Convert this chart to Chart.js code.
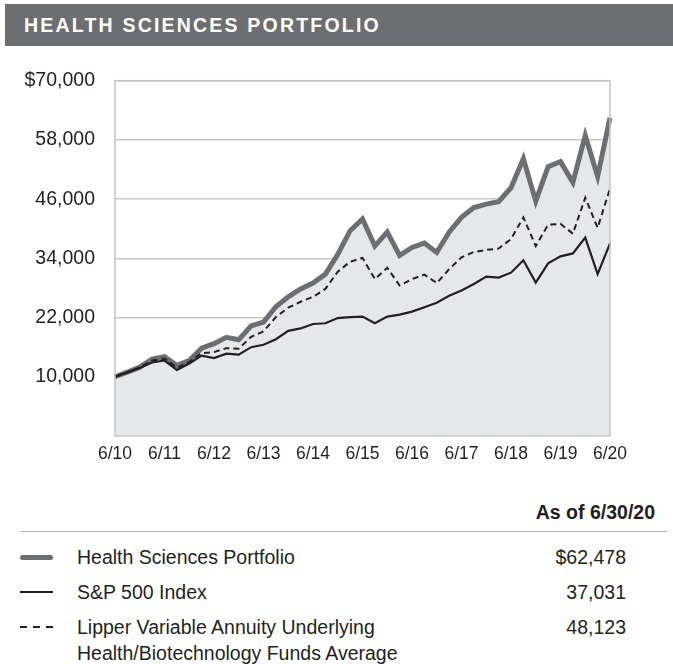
<!DOCTYPE html>
<html>
<head>
<meta charset="utf-8">
<script src="https://cdn.jsdelivr.net/npm/chart.js@4"></script>
<style>
  body { margin: 0; background: #fff; font-family: "Liberation Sans", Arial, sans-serif; color: #231f20; }
  #page { position: relative; width: 673px; height: 664px; overflow: hidden; }
  #header { position: absolute; left: 5px; top: 4px; width: 668px; height: 42px; background: #6d6e71; }
  #header span { position: absolute; left: 19px; top: 10px; color: #fff; font-weight: bold; font-size: 19.5px; letter-spacing: 2.2px; }
  #chartBox { position: absolute; left: 0; top: 49px; width: 673px; height: 431px; }
  .abs { position: absolute; white-space: nowrap; }
  .txt { font-size: 19.5px; line-height: 26px; }
  .val { font-size: 19.5px; line-height: 26px; text-align: right; }
  #rule { position: absolute; left: 20px; top: 531px; width: 647px; height: 1px; background: #b5b5b5; }
  .swatch { position: absolute; left: 20px; width: 33px; }
</style>
</head>
<body>
<div id="page">
  <div id="header"><span>HEALTH SCIENCES PORTFOLIO</span></div>
  <div id="chartBox"><canvas id="growthChart" width="673" height="431"></canvas></div>

  <div class="abs" style="left:455px; top:501px; width:200px; text-align:right; font-weight:bold; font-size:19.5px;">As of 6/30/20</div>
  <div id="rule"></div>
  <div id="legendRows"></div>
</div>

<script>
// quarter ends, 6/30/10 through 6/30/20
var quarters = ['6/10','9/10','12/10','3/11','6/11','9/11','12/11','3/12','6/12','9/12','12/12',
  '3/13','6/13','9/13','12/13','3/14','6/14','9/14','12/14','3/15','6/15','9/15','12/15',
  '3/16','6/16','9/16','12/16','3/17','6/17','9/17','12/17','3/18','6/18','9/18','12/18',
  '3/19','6/19','9/19','12/19','3/20','6/20'];
var xTickLabels = ['6/10','6/11','6/12','6/13','6/14','6/15','6/16','6/17','6/18','6/19','6/20'];
var yTickValues = [70000, 58000, 46000, 34000, 22000, 10000];
var yTickLabels = ['$70,000', '58,000', '46,000', '34,000', '22,000', '10,000'];

var seriesNames = ['Health Sciences Portfolio', 'S&P 500 Index',
  'Lipper Variable Annuity Underlying\nHealth/Biotechnology Funds Average'];
var endValues = ['$62,478', '37,031', '48,123'];

var portfolio = [10000, 10950, 11950, 13600, 14100, 12300, 13300, 15800, 16700, 18000, 17500,
  20300, 21100, 24200, 26200, 27800, 29000, 30800, 34800, 39600, 42000, 36500, 39300,
  34600, 36200, 37100, 35200, 39300, 42300, 44300, 45000, 45500, 48300, 54200, 45600,
  52600, 53600, 49400, 58900, 50600, 62478];
var sp500 = [10000, 10900, 11800, 12900, 13300, 11400, 12700, 14300, 13800, 14700, 14500,
  16000, 16500, 17600, 19300, 19800, 20700, 20850, 21900, 22100, 22200, 20850, 22200,
  22600, 23200, 24100, 25000, 26400, 27500, 28800, 30300, 30100, 31100, 33600, 29100,
  33000, 34400, 35000, 38200, 30800, 37031];
var lipper = [10000, 10900, 11900, 13300, 13700, 11800, 13000, 14800, 15000, 15800, 15700,
  18100, 19200, 22100, 24000, 25200, 26200, 27800, 31300, 33300, 34100, 29800, 32100,
  28500, 29800, 30700, 29000, 31800, 34200, 35300, 35700, 36000, 37900, 42300, 36500,
  40800, 41000, 39000, 46300, 40200, 48123];

// legend table below the chart
var rowTops = [544, 579, 614];
var swatchStyles = [
  'top:11px;height:5px;background:#6d6e71;border-radius:3px;',
  'top:12px;height:2px;background:#231f20;',
  'top:12px;height:2px;background:repeating-linear-gradient(to right,#231f20 0 7px,transparent 7px 13px);'
];
var rows = document.getElementById('legendRows');
seriesNames.forEach(function(name, i) {
  var r = document.createElement('div');
  r.className = 'abs';
  r.style.left = '0px';
  r.style.top = rowTops[i] + 'px';
  r.style.width = '673px';
  r.innerHTML =
    '<div class="swatch" style="' + swatchStyles[i] + '"></div>' +
    '<div class="abs txt" style="left:77px;top:0;">' + name.replace('&', '&amp;').replace('\n', '<br>') + '</div>' +
    '<div class="abs val" style="left:526px;top:0;width:100px;">' + endValues[i] + '</div>';
  rows.appendChild(r);
});

var plotBorder = {
  id: 'plotBorder',
  afterDatasetsDraw: function(chart) {
    var a = chart.chartArea, ctx = chart.ctx;
    ctx.save();
    ctx.strokeStyle = '#c4c4c4';
    ctx.lineWidth = 1.5;
    ctx.strokeRect(a.left, a.top, a.right - a.left, a.bottom - a.top);
    ctx.restore();
  }
};

new Chart('growthChart', {
  type: 'line',
  data: {
    labels: quarters,
    datasets: [{
      label: seriesNames[0],
      data: portfolio,
      borderColor: '#6d6e71',
      borderWidth: 5,
      backgroundColor: '#e6e7e8',
      fill: 'start',
      order: 3
    }, {
      label: seriesNames[2],
      data: lipper,
      borderColor: '#231f20',
      borderWidth: 2,
      borderDash: [6, 4],
      fill: false,
      order: 2
    }, {
      label: seriesNames[1],
      data: sp500,
      borderColor: '#231f20',
      borderWidth: 2.2,
      fill: false,
      order: 1
    }]
  },
  options: {
    responsive: false,
    animation: false,
    elements: { point: { radius: 0 }, line: { tension: 0, borderJoinStyle: 'miter' } },
    layout: { padding: { top: 8, right: 63, left: 0, bottom: 0 } },
    plugins: { legend: { display: false }, tooltip: { enabled: false } },
    scales: {
      x: {
        offset: false,
        grid: { display: false, drawTicks: false },
        border: { display: false },
        afterFit: function(s) { s.height = 44; },
        ticks: {
          autoSkip: false,
          maxRotation: 0,
          padding: 8,
          color: '#231f20',
          font: { family: '"Liberation Sans", Arial, sans-serif', size: 17.5 },
          callback: function(v, i) {
            var l = quarters[i];
            return xTickLabels.indexOf(l) >= 0 && i % 4 === 0 ? l : '';
          }
        }
      },
      y: {
        min: -2000,
        max: 70000,
        afterFit: function(s) { s.width = 115; },
        afterBuildTicks: function(s) {
          s.ticks = yTickValues.map(function(v) { return { value: v }; });
        },
        grid: { color: '#c8c8c8', lineWidth: 1.5, drawTicks: false },
        border: { display: false },
        ticks: {
          padding: 20,
          color: '#231f20',
          font: { family: '"Liberation Sans", Arial, sans-serif', size: 19.5 },
          callback: function(v) {
            var k = yTickValues.indexOf(v);
            return k >= 0 ? yTickLabels[k] : '';
          }
        }
      }
    }
  },
  plugins: [plotBorder]
});
</script>
</body>
</html>
